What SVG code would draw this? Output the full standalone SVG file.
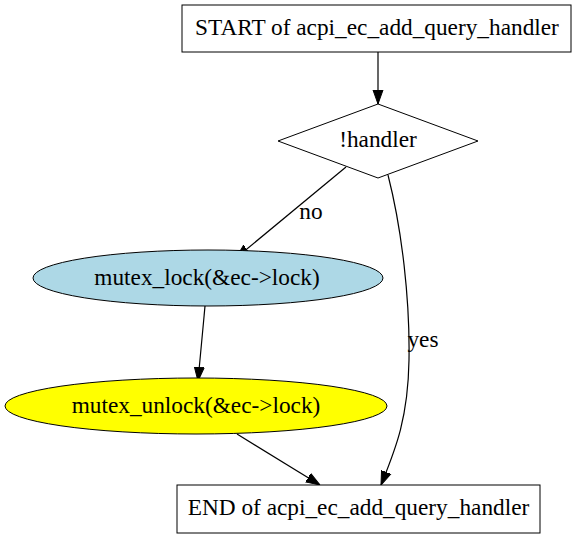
<svg xmlns="http://www.w3.org/2000/svg" width="579" height="539" viewBox="0 0 579 539">
<style>
text{font-family:'Liberation Serif','Times New Roman',Times,serif;font-size:23.3px;fill:#000;text-anchor:middle}
.n{stroke:#000;stroke-width:1}
.e{fill:none;stroke:#000;stroke-width:1.2}
</style>
<defs>
<marker id="a" viewBox="0 0 14 12" refX="14" refY="6" markerWidth="14" markerHeight="12" markerUnits="userSpaceOnUse" orient="auto">
<path d="M0,1 L14,6 L0,11 Z" fill="#000" stroke="#000"/>
</marker>
</defs>
<rect width="579" height="539" fill="#fff"/>
<g id="edges">
<path class="e" d="M378,52 L378,104" marker-end="url(#a)"/>
<path class="e" d="M346,167 L236,258" marker-end="url(#a)"/>
<text x="311" y="219">no</text>
<path class="e" d="M388,175 C402,230 410,300 409,360 C408,420 395,450 381,485" marker-end="url(#a)"/>
<text x="423" y="347">yes</text>
<path class="e" d="M205,306 L198,381" marker-end="url(#a)"/>
<path class="e" d="M237,434 L320,485" marker-end="url(#a)"/>
</g>
<g id="start">
<rect class="n" x="182" y="5" width="389" height="47" fill="#fff"/>
<text x="377" y="35">START of acpi_ec_add_query_handler</text>
</g>
<g id="cond">
<polygon class="n" points="378,104 478,141 378,178 278,141" fill="#fff"/>
<text x="378" y="147">!handler</text>
</g>
<g id="lock">
<ellipse class="n" cx="208" cy="278" rx="175" ry="28" fill="#add8e6"/>
<text x="207" y="285">mutex_lock(&amp;ec-&gt;lock)</text>
</g>
<g id="unlock">
<ellipse class="n" cx="196" cy="406" rx="191" ry="28" fill="#ffff00"/>
<text x="196" y="413">mutex_unlock(&amp;ec-&gt;lock)</text>
</g>
<g id="end">
<rect class="n" x="177" y="485" width="363" height="48" fill="#fff"/>
<text x="358.5" y="515">END of acpi_ec_add_query_handler</text>
</g>
</svg>
